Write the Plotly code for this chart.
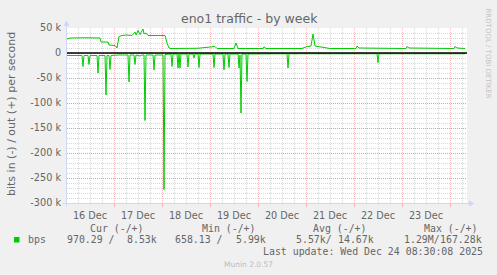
import pandas as pd
import plotly.graph_objects as go

# ---------------- data ----------------
t0 = pd.Timestamp("2025-12-16 00:00")
range_start_h = 0.5
range_end_h = 200.5

# outgoing traffic (+), hours since 16 Dec 00:00, values in kbit/s
out_hours = [0.5, 2, 10, 17, 17.5, 21, 21.5, 24.5, 25.5, 26.5,
             28, 30, 33, 34.5, 35, 36, 37, 38.5, 39, 40,
             41, 45, 49.5, 50.5, 51.5, 52.5, 60, 66, 74.5, 75.5,
             84, 85, 86, 98.5, 99, 100, 118, 120.5, 122.5, 123.5,
             124.5, 128, 132, 145, 145.5, 146.5, 170, 170.5, 171.5, 194,
             194.5, 195.5, 199.5]
out_kbps = [28, 30, 30.5, 30, 22, 22, 16, 15, 10, 33,
            35, 36, 35, 42, 36, 45, 37, 48, 38, 40,
            35, 35, 35, 20, 10, 9, 9, 9.5, 13, 9,
            9, 20, 9, 9, 12.5, 9, 9, 13, 14, 38,
            14, 12, 9, 9, 14, 10, 9, 13, 10, 9,
            13, 10, 9]

# incoming traffic (-), hours since 16 Dec 00:00, values in kbit/s
in_hours = [0.5,
            8.0, 8.5, 9.0,
            11.0, 11.5, 12.0,
            15.5, 16.0, 16.5,
            19.5, 20.0, 20.5,
            21.5, 22.0, 22.5,
            26.0,
            31.0, 31.5, 32.0,
            34.0, 34.5, 35.0,
            37.0, 38.0,
            39.0, 39.5, 40.0,
            43.5, 44.0, 44.5,
            48.5, 49.0, 49.5,
            52.5, 53.0, 53.5,
            55.5, 56.0, 56.5, 57.0, 57.5,
            60.5, 61.0, 61.5,
            63.5, 64.0, 64.5,
            66.0, 66.5, 67.0,
            73.5, 74.0, 74.5,
            78.5, 79.0, 79.5,
            81.0, 81.5, 82.0,
            86.0, 86.5, 87.0, 87.5, 88.0,
            90.0, 90.5, 91.0,
            110.5, 111.0, 111.5,
            155.5, 156.0, 156.5,
            199.5]
in_kbps = [-5,
           -5, -27, -5,
           -5, -23, -5,
           -5, -40, -5,
           -5, -84, -5,
           -5, -33, -5,
           -4,
           -4, -58, -4,
           -4, -23, -4,
           -6, -4,
           -4, -135, -4,
           -4, -34, -4,
           -4, -273, -3,
           -2, -27, -2,
           -2, -30, -2, -30, -2,
           -2, -28, -2,
           -2, -10, -2,
           -2, -29, -2,
           -2, -29, -2,
           -2, -34, -2,
           -2, -29, -2,
           -2, -30, -4, -120, -2,
           -2, -57, -2,
           -1.5, -30, -1.5,
           -1.5, -19, -1.5,
           -1.5]

y_tick_vals = [50000, 0, -50000, -100000, -150000, -200000, -250000, -300000]
y_tick_text = ["50 k", "0", "-50 k", "-100 k", "-150 k", "-200 k", "-250 k", "-300 k"]

title_text = "eno1 traffic - by week"
y_title = "bits in (-) / out (+) per second"
series_name = "bps"
stat_headers = ["Cur (-/+)", "Min (-/+)", "Avg (-/+)", "Max (-/+)"]
stat_in = ["970.29 /", "658.13 /", "5.57k/", "1.29M/"]
stat_out = ["8.53k", "5.99k", "14.67k", "167.28k"]
last_update = "Last update: Wed Dec 24 08:30:08 2025"
watermark = "Munin 2.0.57"
side_credit = "RRDTOOL / TOBI OETIKER"

# ---------------- styling ----------------
GREEN = "#00CC00"
FONT_COL = "#666666"
AXIS_COL = "#CFD6F8"
MAJOR = "rgba(222,79,79,0.38)"
MINOR = "rgba(143,143,143,0.35)"
W, H = 497, 275
L, R, T, B = 67, 30, 28, 72
PW, PH = W - L - R, H - T - B


def px(x):
    return (x - L) / PW


def py(y):
    return (T + PH - y) / PH


def to_time(hours):
    return [t0 + pd.Timedelta(hours=h) for h in hours]


fig = go.Figure()
fig.add_trace(go.Scatter(x=to_time(out_hours), y=[v * 1000 for v in out_kbps],
                         mode="lines", line=dict(color=GREEN, width=1),
                         hoverinfo="skip"))
fig.add_trace(go.Scatter(x=to_time(in_hours), y=[v * 1000 for v in in_kbps],
                         mode="lines", line=dict(color=GREEN, width=1),
                         hoverinfo="skip"))

fig.update_layout(
    width=W, height=H,
    margin=dict(l=L, r=R, t=T, b=B),
    paper_bgcolor="#F0F0F0", plot_bgcolor="#FFFFFF",
    showlegend=False,
    font=dict(family="DejaVu Sans", size=9.7, color=FONT_COL),
)

fig.update_xaxes(
    type="date",
    range=[t0 + pd.Timedelta(hours=range_start_h), t0 + pd.Timedelta(hours=range_end_h)],
    tick0="2025-12-16", dtick=86400000, ticklabelmode="period", tickformat="%d %b",
    showgrid=True, gridcolor=MAJOR, griddash="1px,1px", gridwidth=1,
    minor=dict(tick0="2025-12-16", dtick=21600000, showgrid=True,
               gridcolor=MINOR, griddash="1px,1px", gridwidth=1),
    ticks="outside", ticklen=3, tickcolor=MAJOR,
    showline=False, zeroline=False, fixedrange=True,
)
fig.update_yaxes(
    range=[-300000, 50000],
    tickmode="array", tickvals=y_tick_vals, ticktext=y_tick_text,
    showgrid=True, gridcolor=MAJOR, griddash="1px,1px", gridwidth=1,
    minor=dict(tick0=0, dtick=10000, showgrid=True,
               gridcolor=MINOR, griddash="1px,1px", gridwidth=1),
    ticks="outside", ticklen=3, tickcolor="rgba(0,0,0,0)",
    showline=False, zeroline=False, fixedrange=True,
)

shapes = []
# zero line
shapes.append(dict(type="line", xref="paper", yref="y", x0=0, x1=1, y0=0, y1=0,
                   line=dict(color="black", width=1.5), layer="above"))
# axes with arrows
shapes.append(dict(type="line", xref="paper", yref="paper",
                   x0=px(66.5), x1=px(66.5), y0=py(206), y1=py(25),
                   line=dict(color=AXIS_COL, width=1), layer="above"))
shapes.append(dict(type="line", xref="paper", yref="paper",
                   x0=px(63), x1=px(470), y0=py(203.5), y1=py(203.5),
                   line=dict(color=AXIS_COL, width=1), layer="above"))
shapes.append(dict(type="path", xref="paper", yref="paper",
                   path=f"M {px(63.5)},{py(26)} L {px(66.5)},{py(20.5)} L {px(69.5)},{py(26)} Z",
                   fillcolor=AXIS_COL, line=dict(width=0), layer="above"))
shapes.append(dict(type="path", xref="paper", yref="paper",
                   path=f"M {px(469)},{py(200.5)} L {px(474.5)},{py(203.5)} L {px(469)},{py(206.5)} Z",
                   fillcolor=AXIS_COL, line=dict(width=0), layer="above"))
# legend swatch
shapes.append(dict(type="rect", xref="paper", yref="paper",
                   x0=px(14), x1=px(19.5), y0=py(242.5), y1=py(237),
                   fillcolor=GREEN, line=dict(width=0)))
fig.update_layout(shapes=shapes)

MONO = "DejaVu Sans Mono"


def ann(text, x, y, size=9.7, family="DejaVu Sans", color=FONT_COL,
        xanchor="left", angle=0):
    return dict(text=text, x=px(x), y=py(y), xref="paper", yref="paper",
                showarrow=False, xanchor=xanchor, yanchor="middle",
                textangle=angle, borderpad=0,
                font=dict(size=size, family=family, color=color))


anns = [
    ann(title_text, 249, 18.5, size=12.5, xanchor="center"),
    ann(y_title, 11.5, 114.5, size=11, xanchor="center", angle=-90),
    ann(side_credit, 487.5, 53, size=7, color="#C4C4C4", xanchor="center", angle=90),
    ann(watermark, 248, 264, size=7.5, color="#BBBBBB", xanchor="center"),
    ann(series_name, 26.5, 239.5, family=MONO, size=9.9),
    ann(last_update, 261.5, 251.3, family=MONO, size=9.9),
]
header_x = [89.3, 200.7, 312.3, 422.7]
in_x = [66, 174, 295, 403.3]
out_right = [157.5, 267.3, 375.3, 482.5]
for i in range(4):
    anns.append(ann(stat_headers[i], header_x[i], 228, family=MONO, size=9.9))
    anns.append(ann(stat_in[i], in_x[i], 239.5, family=MONO, size=9.9))
    anns.append(ann(stat_out[i], out_right[i], 239.5, family=MONO, size=9.9,
                    xanchor="right"))
fig.update_layout(annotations=anns)

fig.write_html("out.html")
